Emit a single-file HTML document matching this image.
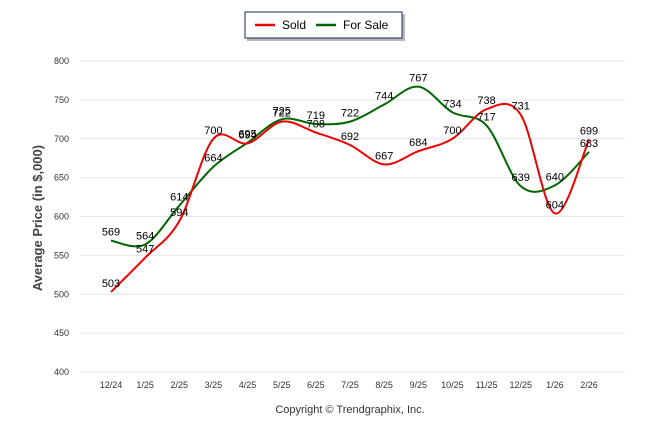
<!DOCTYPE html>
<html><head><meta charset="utf-8"><style>
body{margin:0;background:#fff;font-family:"Liberation Sans",Arial,sans-serif}
svg text{font-family:"Liberation Sans",Arial,sans-serif}
</style></head><body>
<svg id="c" width="646" height="434" xmlns="http://www.w3.org/2000/svg">
<g>
<rect x="247" y="14" width="158" height="27" fill="#888" opacity="0.6"/>
<rect x="245" y="12" width="157" height="26" fill="#fff" stroke="#1a2a5a" stroke-width="1"/>
<line x1="255" y1="25" x2="275" y2="25" stroke="#e00" stroke-width="2.5"/>
<text x="282" y="29" font-size="12">Sold</text>
<line x1="316" y1="25" x2="336" y2="25" stroke="#060" stroke-width="2.5"/>
<text x="343" y="29" font-size="12">For Sale</text>
</g>
<text transform="translate(42,218) rotate(-90)" text-anchor="middle" font-size="13" font-weight="bold" fill="#444">Average Price (in $,000)</text>
<text x="350" y="413" text-anchor="middle" font-size="11" fill="#333">Copyright © Trendgraphix, Inc.</text>
<g id="grid"></g><g id="series"></g><g id="labels"></g>
</svg>
<script>
const categories=["12/24","1/25","2/25","3/25","4/25","5/25","6/25","7/25","8/25","9/25","10/25","11/25","12/25","1/26","2/26"];
const soldValues=[503,547,594,700,694,722,708,692,667,684,700,738,731,604,699];
const forSaleValues=[569,564,614,664,695,725,719,722,744,767,734,717,639,640,683];
const yTicks=[400,450,500,550,600,650,700,750,800];
const NS="http://www.w3.org/2000/svg";
const x=i=>111+i*(478/14);
const y=v=>61+(800-v)*(311/400);
function mk(t,a,p){const e=document.createElementNS(NS,t);for(const k in a)e.setAttribute(k,a[k]);p.appendChild(e);return e;}
const grid=document.getElementById('grid');
yTicks.forEach(v=>{
 const l=mk('line',{x1:80,x2:625,y1:y(v),y2:y(v),stroke:'#e6e6e6','stroke-width':1},grid);
 
 
 const t=mk('text',{x:69,y:y(v)+3,'text-anchor':'end','font-size':9,fill:'#333'},grid);t.textContent=v;
 
 
});
categories.forEach((c,i)=>{
 const t=mk('text',{x:x(i),y:388,'text-anchor':'middle','font-size':9,fill:'#333'},grid);t.textContent=c;
 
 
});
function path(vals){
 const p=vals.map((v,i)=>[x(i),y(v)]);let d='M'+p[0][0]+','+p[0][1];
 for(let i=0;i<p.length-1;i++){const p0=p[i-1]||p[i],p1=p[i],p2=p[i+1],p3=p[i+2]||p2;
 const k=1/6;d+=' C'+(p1[0]+(p2[0]-p0[0])*k)+','+(p1[1]+(p2[1]-p0[1])*k)+' '+(p2[0]-(p3[0]-p1[0])*k)+','+(p2[1]-(p3[1]-p1[1])*k)+' '+p2[0]+','+p2[1];}
 return d;}
const s=document.getElementById('series'),lb=document.getElementById('labels');
[[forSaleValues,'#060','for-sale'],[soldValues,'#e00','sold']].forEach(([vals,col,n])=>{
 const pl=mk('path',{d:path(vals),fill:'none',stroke:col,'stroke-width':2},s);
 
 
 vals.forEach((v,i)=>{
  const t=mk('text',{x:x(i),y:y(v)-5,'text-anchor':'middle','font-size':11,fill:'#000'},lb);t.textContent=v;
  
  
 });
});
</script>
</body></html>
